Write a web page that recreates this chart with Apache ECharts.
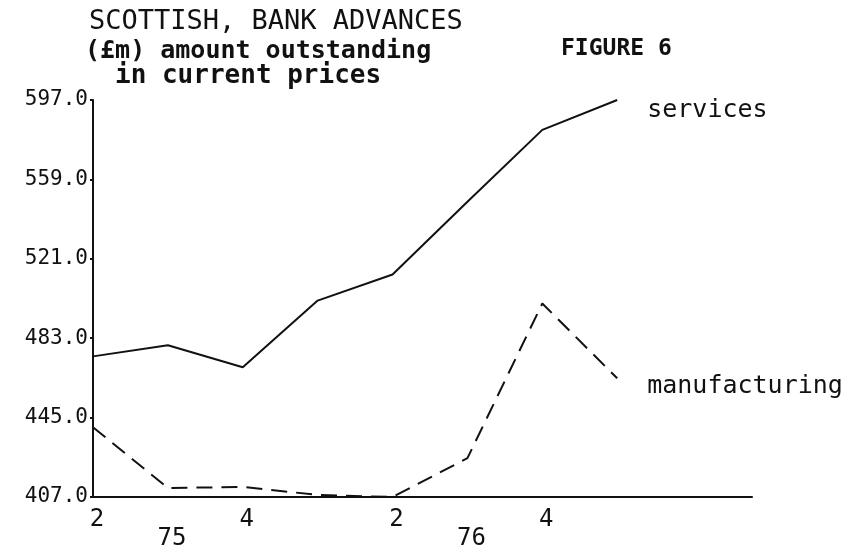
<!DOCTYPE html>
<html>
<head>
<meta charset="utf-8">
<script src="https://cdn.jsdelivr.net/npm/echarts@6/dist/echarts.min.js"></script>
<style>
  html, body { margin: 0; padding: 0; background: #fff; }
  #chart { width: 852px; height: 550px; }
</style>
</head>
<body>
<div id="chart"></div>
<script>
// quarters: 1975 Q2 .. 1977 Q1 (position on the x axis)
const quarters = [0, 1, 2, 3, 4, 5, 6, 7]
const tickLabels = ['2', '75', '4', '', '2', '76', '4', '']
const yearTicks = ['75', '76']

// amount outstanding, £m
const services = [474.3, 479.6, 469.1, 501.0, 513.5, 548.3, 582.7, 597.0]
const manufacturing = [440.4, 411.3, 411.8, 408.0, 407.0, 425.6, 499.6, 463.8]

const ink = '#111'
const mono = '"DejaVu Sans Mono", "Liberation Mono", monospace'

const chart = echarts.init(document.getElementById('chart'))

const pairs = (vals) => quarters.map((q, i) => [q, vals[i]])

chart.setOption({
  animation: false,
  backgroundColor: '#fff',
  grid: { left: 93, top: 100, width: 659, height: 397, outerBoundsMode: 'none' },
  xAxis: {
    type: 'value',
    min: 0,
    max: 8.8,
    interval: 1,
    axisLine: { show: true, lineStyle: { color: ink, width: 2 } },
    axisTick: { show: false },
    splitLine: { show: false },
    axisLabel: {
      margin: 11,
      color: ink,
      fontFamily: mono,
      fontSize: 24,
      showMaxLabel: false,
      padding: [0, 0, 0, 8],
      formatter: (v) => {
        const t = tickLabels[v] || ''
        return yearTicks.includes(t) ? '{lo|' + t + '}' : t
      },
      rich: {
        lo: { fontFamily: mono, fontSize: 24, color: ink, padding: [19, 0, 0, 0] }
      }
    }
  },
  yAxis: {
    type: 'value',
    min: 407,
    max: 597,
    interval: 38,
    axisLine: { show: true, lineStyle: { color: ink, width: 2 } },
    axisTick: { show: true, length: 3, lineStyle: { color: ink, width: 2 } },
    splitLine: { show: false },
    axisLabel: {
      margin: 5,
      color: ink,
      fontFamily: mono,
      fontSize: 21,
      formatter: (v) => v.toFixed(1)
    }
  },
  series: [
    {
      name: 'services',
      type: 'line',
      data: pairs(services),
      symbol: 'none',
      lineStyle: { color: ink, width: 2 },
      endLabel: {
        show: true,
        formatter: 'services',
        color: ink,
        fontFamily: mono,
        fontSize: 25,
        offset: [22, 10]
      }
    },
    {
      name: 'manufacturing',
      type: 'line',
      data: pairs(manufacturing),
      symbol: 'none',
      lineStyle: { color: ink, width: 2, type: [16, 9] },
      endLabel: {
        show: true,
        formatter: 'manufacturing',
        color: ink,
        fontFamily: mono,
        fontSize: 25,
        offset: [22, 8]
      }
    }
  ],
  title: [
    {
      text: 'SCOTTISH, BANK ADVANCES',
      left: 84,
      top: 3,
      textStyle: { color: ink, fontFamily: mono, fontWeight: 'normal', fontSize: 27 }
    },
    {
      text: '(£m) amount outstanding',
      left: 80,
      top: 34,
      textStyle: { color: ink, fontFamily: mono, fontWeight: 'bold', fontSize: 25 }
    },
    {
      text: 'in current prices',
      left: 110,
      top: 58,
      textStyle: { color: ink, fontFamily: mono, fontWeight: 'bold', fontSize: 26 }
    },
    {
      text: 'FIGURE 6',
      left: 556,
      top: 33,
      textStyle: { color: ink, fontFamily: mono, fontWeight: 'bold', fontSize: 23 }
    }
  ]
})
</script>
</body>
</html>
